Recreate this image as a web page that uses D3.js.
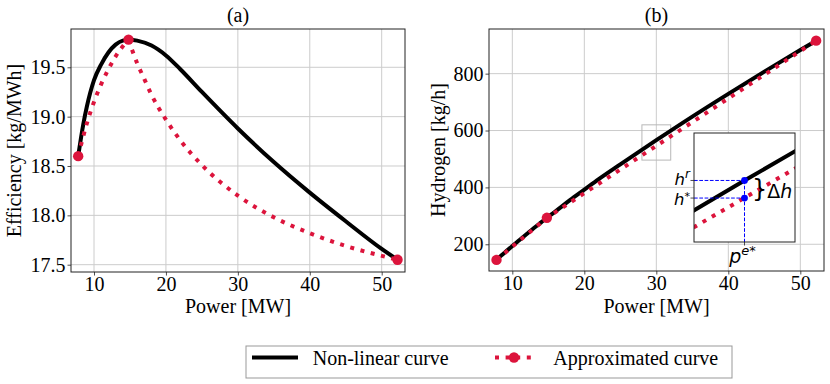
<!DOCTYPE html>
<html lang="en">
<head>
<meta charset="utf-8">
<title>Electrolyser efficiency and hydrogen output</title>
<script src="https://d3js.org/d3.v7.min.js" charset="utf-8"></script>
<style>
 body { margin: 0; background: #fff; }
 .serif { font-family: "Liberation Serif", "Times New Roman", serif; }
 .math { font-family: "DejaVu Sans", sans-serif; }
</style>
</head>
<body>
<script type="text/javascript">

 //Non-linear curve
 var powerNL = [7.8, 8.5, 9, 10, 11, 12, 13, 14, 15, 16, 18, 20, 22, 25, 30, 35, 40, 45, 50, 52.2];
 var effNL = [18.60, 18.92, 19.10, 19.37, 19.53, 19.65, 19.73, 19.77, 19.78, 19.77, 19.72, 19.62, 19.48, 19.25, 18.88, 18.54, 18.23, 17.94, 17.66, 17.55];
 var hydroNL = [145, 161, 172, 194, 215, 236, 257, 277, 297, 316, 355, 392, 429, 481, 566, 649, 729, 807, 883, 916];

 //Approximated curve (efficiency side)
 var approxPower = [7.8, 9, 10, 11, 12, 13, 14.8, 16, 17, 18, 20, 22, 25, 30, 35, 40, 45, 50, 52.2];
 var approxEff = [18.60, 18.93, 19.15, 19.33, 19.48, 19.61, 19.78, 19.54, 19.38, 19.22, 18.97, 18.76, 18.51, 18.20, 17.98, 17.82, 17.69, 17.59, 17.55];

 //Breakpoints of the approximation
 var knotPower = [7.8, 14.8, 52.2];
 var knotEff = [18.6, 19.78, 17.55];
 var knotHydro = [145, 293, 916];

 //Ticks
 var powerTicks = [10, 20, 30, 40, 50];
 var effTicks = [17.5, 18.0, 18.5, 19.0, 19.5];
 var hydroTicks = [200, 400, 600, 800];

 //Zoomed region of panel (b) and the marked point
 var zoomPower = [28, 32];
 var zoomHydro = [496, 620];
 var starPower = 30;
 var starHydro = [566, 546];

 var legendLabels = ["Non-linear curve", "Approximated curve"];

 var red = "#dc143c";
 var serif = "'Liberation Serif', 'Times New Roman', serif";

 var svg = d3.select("body")
	     .append("svg")
	     .attr("width", 830)
	     .attr("height", 384);

 //Scales
 var xA = d3.scaleLinear().domain([6.8, 53.24]).range([71, 405]);
 var yA = d3.scaleLinear().domain([17.426, 19.888]).range([272, 29]);
 var xB = d3.scaleLinear().domain([6.76, 53.29]).range([489, 824]);
 var yB = d3.scaleLinear().domain([106, 957]).range([271, 29]);

 var nl = powerNL.map(function (p, i) { return {p: p, e: effNL[i], h: hydroNL[i]}; });
 var ap = approxPower.map(function (p, i) { return {p: p, e: approxEff[i]}; });
 var knots = knotPower.map(function (p, i) { return {p: p, e: knotEff[i], h: knotHydro[i]}; });

 //Grid, axes and labels of one panel
 function frame(x, y, yTicks, yFmt, title, ylabel, ylabelX) {
     var left = x.range()[0], right = x.range()[1];
     var top = y.range()[1], bottom = y.range()[0];
     var grid = svg.append("g");
     grid.selectAll(".gx")
	 .data(powerTicks)
	 .enter()
	 .append("line")
	 .attr("x1", function (d) { return x(d); })
	 .attr("x2", function (d) { return x(d); })
	 .attr("y1", top)
	 .attr("y2", bottom)
	 .attr("stroke", "#cccccc")
	 .attr("stroke-width", 1);
     grid.selectAll(".gy")
	 .data(yTicks)
	 .enter()
	 .append("line")
	 .attr("x1", left)
	 .attr("x2", right)
	 .attr("y1", function (d) { return y(d); })
	 .attr("y2", function (d) { return y(d); })
	 .attr("stroke", "#cccccc")
	 .attr("stroke-width", 1);

     var gx = svg.append("g")
		 .attr("transform", "translate(0," + bottom + ")")
		 .call(d3.axisBottom(x).tickValues(powerTicks).tickSize(3.5).tickPadding(1.5).tickFormat(d3.format("d")));
     var gy = svg.append("g")
		 .attr("transform", "translate(" + left + ",0)")
		 .call(d3.axisLeft(y).tickValues(yTicks).tickSize(3.5).tickPadding(2).tickFormat(yFmt));
     [gx, gy].forEach(function (g) {
	 g.attr("font-family", serif).attr("font-size", 20);
	 g.select(".domain").remove();
	 g.selectAll(".tick line").attr("stroke", "#222").attr("stroke-width", 0.8);
	 g.selectAll("text").attr("fill", "#000");
     });

     svg.append("text")
	.attr("class", "serif")
	.attr("x", (left + right) / 2)
	.attr("y", 21.5)
	.attr("text-anchor", "middle")
	.attr("font-size", 20)
	.text(title);
     svg.append("text")
	.attr("class", "serif")
	.attr("x", (left + right) / 2)
	.attr("y", 313)
	.attr("text-anchor", "middle")
	.attr("font-size", 20)
	.text("Power [MW]");
     svg.append("text")
	.attr("class", "serif")
	.attr("transform", "translate(" + ylabelX + "," + (top + bottom) / 2 + ") rotate(-90)")
	.attr("text-anchor", "middle")
	.attr("font-size", 20)
	.text(ylabel);
 }

 function spines(x, y) {
     svg.append("rect")
	.attr("x", x.range()[0])
	.attr("y", y.range()[1])
	.attr("width", x.range()[1] - x.range()[0])
	.attr("height", y.range()[0] - y.range()[1])
	.attr("fill", "none")
	.attr("stroke", "#222")
	.attr("stroke-width", 1);
 }

 //Panel (a)
 frame(xA, yA, effTicks, d3.format(".1f"), "(a)", "Efficiency [kg/MWh]", 21);

 var lineA = d3.line()
	       .x(function (d) { return xA(d.p); })
	       .y(function (d) { return yA(d.e); })
	       .curve(d3.curveMonotoneX);

 svg.append("path")
    .attr("d", lineA(nl))
    .attr("fill", "none")
    .attr("stroke", "#000")
    .attr("stroke-width", 4);

 //approximation has a corner at each breakpoint, so draw it piecewise
 for (var k = 0; k < knotPower.length - 1; k++) {
     var seg = ap.filter(function (d) { return d.p >= knotPower[k] && d.p <= knotPower[k + 1]; });
     svg.append("path")
	.attr("d", lineA(seg))
	.attr("fill", "none")
	.attr("stroke", red)
	.attr("stroke-width", 4)
	.attr("stroke-dasharray", "4,6.6");
 }

 svg.append("g")
    .selectAll("circle")
    .data(knots)
    .enter()
    .append("circle")
    .attr("cx", function (d) { return xA(d.p); })
    .attr("cy", function (d) { return yA(d.e); })
    .attr("r", 5.2)
    .attr("fill", red);

 spines(xA, yA);

 //Panel (b)
 frame(xB, yB, hydroTicks, d3.format("d"), "(b)", "Hydrogen [kg/h]", 445);

 //zoom indicator
 svg.append("rect")
    .attr("x", xB(zoomPower[0]))
    .attr("y", yB(zoomHydro[1]))
    .attr("width", xB(zoomPower[1]) - xB(zoomPower[0]))
    .attr("height", yB(zoomHydro[0]) - yB(zoomHydro[1]))
    .attr("fill", "none")
    .attr("stroke", "#b8b8b8")
    .attr("stroke-width", 1);

 var lineB = d3.line()
	       .x(function (d) { return xB(d.p); })
	       .y(function (d) { return yB(d.h); })
	       .curve(d3.curveMonotoneX);
 var linB = d3.line()
	      .x(function (d) { return xB(d.p); })
	      .y(function (d) { return yB(d.h); });

 svg.append("path")
    .attr("d", lineB(nl))
    .attr("fill", "none")
    .attr("stroke", "#000")
    .attr("stroke-width", 4);
 svg.append("path")
    .attr("d", linB(knots))
    .attr("fill", "none")
    .attr("stroke", red)
    .attr("stroke-width", 4)
    .attr("stroke-dasharray", "4,6.6");
 svg.append("g")
    .selectAll("circle")
    .data(knots)
    .enter()
    .append("circle")
    .attr("cx", function (d) { return xB(d.p); })
    .attr("cy", function (d) { return yB(d.h); })
    .attr("r", 5.2)
    .attr("fill", red);

 spines(xB, yB);

 //Inset
 var ix = d3.scaleLinear().domain(zoomPower).range([694, 795]);
 var iy = d3.scaleLinear().domain(zoomHydro).range([242, 133]);

 svg.append("clipPath")
    .attr("id", "insetClip")
    .append("rect")
    .attr("x", 694).attr("y", 133).attr("width", 101).attr("height", 109);

 svg.append("rect")
    .attr("x", 694).attr("y", 133).attr("width", 101).attr("height", 109)
    .attr("fill", "#fff");

 var inset = svg.append("g").attr("clip-path", "url(#insetClip)");
 var lineI = d3.line()
	       .x(function (d) { return ix(d.p); })
	       .y(function (d) { return iy(d.h); })
	       .curve(d3.curveMonotoneX);
 var linI = d3.line()
	      .x(function (d) { return ix(d.p); })
	      .y(function (d) { return iy(d.h); });

 inset.append("path")
      .attr("d", lineI(nl))
      .attr("fill", "none")
      .attr("stroke", "#000")
      .attr("stroke-width", 4);
 inset.append("path")
      .attr("d", linI(knots))
      .attr("fill", "none")
      .attr("stroke", red)
      .attr("stroke-width", 4)
      .attr("stroke-dasharray", "4,6.6");

 //dashed guides to the marked point
 starHydro.forEach(function (h) {
     inset.append("line")
	  .attr("x1", ix(zoomPower[0])).attr("x2", ix(starPower))
	  .attr("y1", iy(h)).attr("y2", iy(h))
	  .attr("stroke", "blue").attr("stroke-width", 1).attr("stroke-dasharray", "3.7,1.6");
 });
 inset.append("line")
      .attr("x1", ix(starPower)).attr("x2", ix(starPower))
      .attr("y1", iy(starHydro[0])).attr("y2", iy(zoomHydro[0]))
      .attr("stroke", "blue").attr("stroke-width", 1).attr("stroke-dasharray", "3.7,1.6");
 inset.selectAll(".star")
      .data(starHydro)
      .enter()
      .append("circle")
      .attr("cx", ix(starPower))
      .attr("cy", function (d) { return iy(d); })
      .attr("r", 3.4)
      .attr("fill", "blue");

 svg.append("rect")
    .attr("x", 694).attr("y", 133).attr("width", 101).attr("height", 109)
    .attr("fill", "none")
    .attr("stroke", "#222")
    .attr("stroke-width", 1);

 //inset ticks
 starHydro.forEach(function (h) {
     svg.append("line")
	.attr("x1", 690.5).attr("x2", 694)
	.attr("y1", iy(h)).attr("y2", iy(h))
	.attr("stroke", "#222").attr("stroke-width", 0.8);
 });
 svg.append("line")
    .attr("x1", ix(starPower)).attr("x2", ix(starPower))
    .attr("y1", 242).attr("y2", 245.5)
    .attr("stroke", "#222").attr("stroke-width", 0.8);

 //inset labels h^r and h^*
 var hr = svg.append("text")
	     .attr("class", "math")
	     .attr("x", 690)
	     .attr("y", 185)
	     .attr("text-anchor", "end")
	     .attr("font-size", 16.5);
 hr.append("tspan").attr("font-style", "italic").text("h");
 hr.append("tspan").attr("font-style", "italic").attr("font-size", 12).attr("dy", -7).text("r");

 var hs = svg.append("text")
	     .attr("class", "math")
	     .attr("x", 690)
	     .attr("y", 205)
	     .attr("text-anchor", "end")
	     .attr("font-size", 16.5);
 hs.append("tspan").attr("font-style", "italic").text("h");
 hs.append("tspan").attr("font-size", 11).attr("dy", -5.5).text("*");

 //brace and delta h
 var dh = svg.append("text")
	     .attr("class", "math")
	     .attr("x", 752)
	     .attr("y", (iy(starHydro[0]) + iy(starHydro[1])) / 2 + 7.5)
	     .attr("font-size", 24);
 dh.append("tspan").text("}");
 dh.append("tspan").attr("font-size", 19).attr("dy", 1.2).text("\u0394");
 dh.append("tspan").attr("font-size", 19).attr("font-style", "italic").text("h");

 var pe = svg.append("text")
	     .attr("class", "math")
	     .attr("x", ix(starPower) - 2)
	     .attr("y", 263)
	     .attr("text-anchor", "middle")
	     .attr("font-size", 19);
 pe.append("tspan").attr("font-style", "italic").text("p");
 pe.append("tspan").attr("font-size", 13).attr("dy", -8).attr("font-style", "italic").text("e");
 pe.append("tspan").attr("font-size", 13).text("*");

 //Legend
 var legend = svg.append("g");
 legend.append("rect")
       .attr("x", 246).attr("y", 346).attr("width", 486).attr("height", 32)
       .attr("fill", "#fff")
       .attr("stroke", "#999")
       .attr("stroke-width", 1);
 legend.append("line")
       .attr("x1", 252).attr("x2", 298).attr("y1", 357.5).attr("y2", 357.5)
       .attr("stroke", "#000").attr("stroke-width", 4);
 legend.append("line")
       .attr("x1", 495).attr("x2", 533).attr("y1", 357.5).attr("y2", 357.5)
       .attr("stroke", red).attr("stroke-width", 4).attr("stroke-dasharray", "4,6.6");
 legend.append("circle")
       .attr("cx", 514).attr("cy", 357.5).attr("r", 5.2).attr("fill", red);
 legend.selectAll(".lbl")
       .data(legendLabels)
       .enter()
       .append("text")
       .attr("class", "serif")
       .attr("x", function (d, i) { return i === 0 ? 312.7 : 553.3; })
       .attr("y", 365)
       .attr("font-size", 20)
       .text(function (d) { return d; });

</script>
</body>
</html>
